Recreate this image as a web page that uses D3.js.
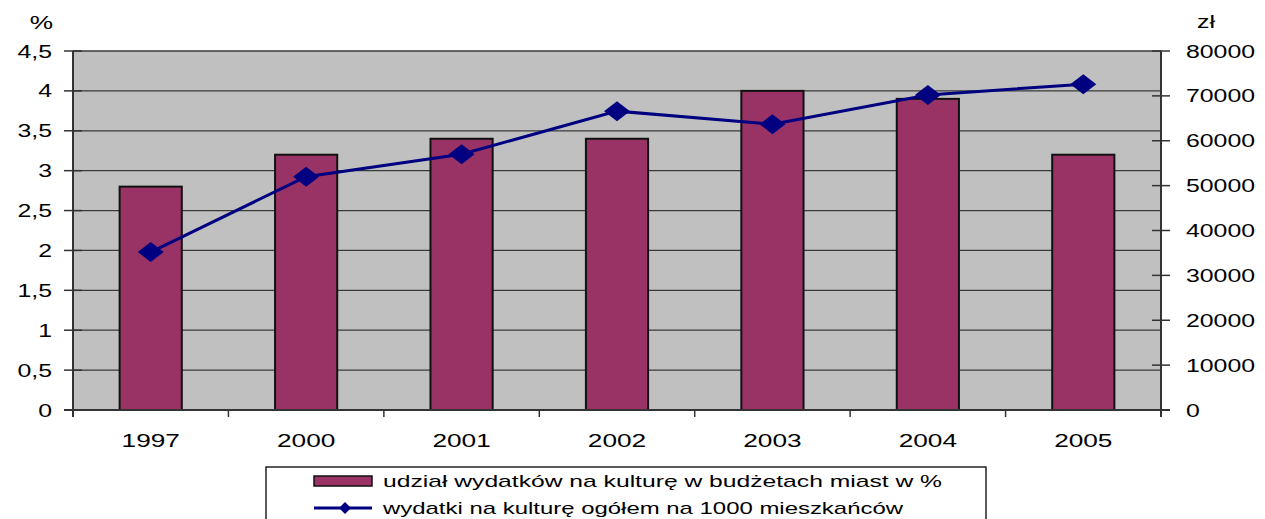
<!DOCTYPE html>
<html>
<head>
<meta charset="utf-8">
<script src="https://cdn.jsdelivr.net/npm/d3@7"></script>
<style>
  html, body { margin: 0; padding: 0; background: #ffffff; }
  svg { display: block; font-family: "Liberation Sans", Arial, sans-serif; }
</style>
</head>
<body>
<svg id="chart" width="1265" height="519"></svg>
<script>
const categories = ['1997', '2000', '2001', '2002', '2003', '2004', '2005'];
const shareValues = [2.8, 3.2, 3.4, 3.4, 4.0, 3.9, 3.2];
const spendingValues = [35200, 52000, 57000, 66600, 63700, 70200, 72600];
const leftTicks = [0, 0.5, 1, 1.5, 2, 2.5, 3, 3.5, 4, 4.5];
const rightTicks = [0, 10000, 20000, 30000, 40000, 50000, 60000, 70000, 80000];
const leftUnit = '%';
const rightUnit = 'zł';
const seriesNames = ['udział wydatków na kulturę w budżetach miast w %',
                     'wydatki na kulturę ogółem na 1000 mieszkańców'];

const svg = d3.select('#chart');
const L = 73, R = 1161, T = 51, B = 410;

const x = d3.scaleBand().domain(categories).range([L, R]).paddingInner(0).paddingOuter(0);
const yL = d3.scaleLinear().domain([0, 4.5]).range([B, T]);
const yR = d3.scaleLinear().domain([0, 80000]).range([B, T]);
const fmtL = d3.formatLocale({decimal: ',', thousands: ' ', grouping: [3], currency: ['', 'zł']}).format('~g');

// plot background
svg.append('rect').attr('x', L).attr('y', T).attr('width', R - L).attr('height', B - T).attr('fill', '#c0c0c0');

// gridlines
svg.append('g').selectAll('line').data(leftTicks.filter(d => d > 0)).join('line')
  .attr('x1', L).attr('x2', R).attr('y1', d => yL(d)).attr('y2', d => yL(d))
  .attr('stroke', '#3a3a3a').attr('stroke-width', 1.3);

// bars
const barW = x.bandwidth() / 2.5;
svg.append('g').selectAll('rect').data(categories).join('rect')
  .attr('x', d => x(d) + (x.bandwidth() - barW) / 2)
  .attr('y', (d, i) => yL(shareValues[i]))
  .attr('width', barW)
  .attr('height', (d, i) => B - yL(shareValues[i]))
  .attr('fill', '#993366').attr('stroke', '#111').attr('stroke-width', 2);

// axes lines
const axisColor = '#333';
svg.append('line').attr('x1', L).attr('x2', L).attr('y1', T).attr('y2', B + 7).attr('stroke', axisColor).attr('stroke-width', 2);
svg.append('line').attr('x1', R).attr('x2', R).attr('y1', T).attr('y2', B + 7).attr('stroke', axisColor).attr('stroke-width', 2);
svg.append('line').attr('x1', L - 9).attr('x2', R + 9).attr('y1', B).attr('y2', B).attr('stroke', axisColor).attr('stroke-width', 2);

// left ticks
svg.append('g').selectAll('line').data(leftTicks).join('line')
  .attr('x1', L - 9).attr('x2', L + 9).attr('y1', d => yL(d)).attr('y2', d => yL(d))
  .attr('stroke', axisColor).attr('stroke-width', 1.5);
// right ticks
svg.append('g').selectAll('line').data(rightTicks).join('line')
  .attr('x1', R - 9).attr('x2', R + 9).attr('y1', d => yR(d)).attr('y2', d => yR(d))
  .attr('stroke', axisColor).attr('stroke-width', 1.5);
// category ticks
svg.append('g').selectAll('line').data(categories.slice(1)).join('line')
  .attr('x1', d => x(d)).attr('x2', d => x(d)).attr('y1', B).attr('y2', B + 7)
  .attr('stroke', axisColor).attr('stroke-width', 1.5);

const SX = 1.38;
function stretched(g, tx, ty, text, size, anchor) {
  return g.append('text')
    .attr('transform', `translate(${tx},${ty}) scale(${SX},1)`)
    .attr('text-anchor', anchor)
    .attr('font-size', size)
    .attr('fill', '#000')
    .text(text);
}

const labels = svg.append('g');
leftTicks.forEach(d => stretched(labels, 52, yL(d) + 6.5, fmtL(d), 18, 'end'));
rightTicks.forEach(d => stretched(labels, 1186, yR(d) + 6.5, String(d), 18, 'start'));
categories.forEach(d => stretched(labels, x(d) + x.bandwidth() / 2, 447, d, 19, 'middle'));
stretched(labels, 53, 29, leftUnit, 19, 'end');
stretched(labels, 1197, 28, rightUnit, 18, 'start');

// line series
const line = d3.line().x((d, i) => x(categories[i]) + x.bandwidth() / 2).y(d => yR(d));
svg.append('path').datum(spendingValues).attr('d', line)
  .attr('fill', 'none').attr('stroke', '#000080').attr('stroke-width', 3);
const diamond = (w, h) => `M0,${-h}L${w},0L0,${h}L${-w},0Z`;
svg.append('g').selectAll('path').data(spendingValues).join('path')
  .attr('transform', (d, i) => `translate(${x(categories[i]) + x.bandwidth() / 2},${yR(d)})`)
  .attr('d', diamond(13, 10)).attr('fill', '#000080');

// legend
const lg = svg.append('g');
lg.append('rect').attr('x', 266).attr('y', 467).attr('width', 720).attr('height', 60)
  .attr('fill', '#fff').attr('stroke', '#000').attr('stroke-width', 1.3);
lg.append('rect').attr('x', 314).attr('y', 476).attr('width', 58).attr('height', 10)
  .attr('fill', '#993366').attr('stroke', '#111').attr('stroke-width', 1.5);
lg.append('text').attr('x', 383).attr('y', 487).attr('font-size', 17)
  .attr('textLength', 559).attr('lengthAdjust', 'spacingAndGlyphs').text(seriesNames[0]);
lg.append('line').attr('x1', 314).attr('x2', 372).attr('y1', 508).attr('y2', 508)
  .attr('stroke', '#000080').attr('stroke-width', 3);
lg.append('path').attr('transform', 'translate(345,508)').attr('d', diamond(6, 6)).attr('fill', '#000080');
lg.append('text').attr('x', 383).attr('y', 514).attr('font-size', 17)
  .attr('textLength', 520).attr('lengthAdjust', 'spacingAndGlyphs').text(seriesNames[1]);
</script>
</body>
</html>
